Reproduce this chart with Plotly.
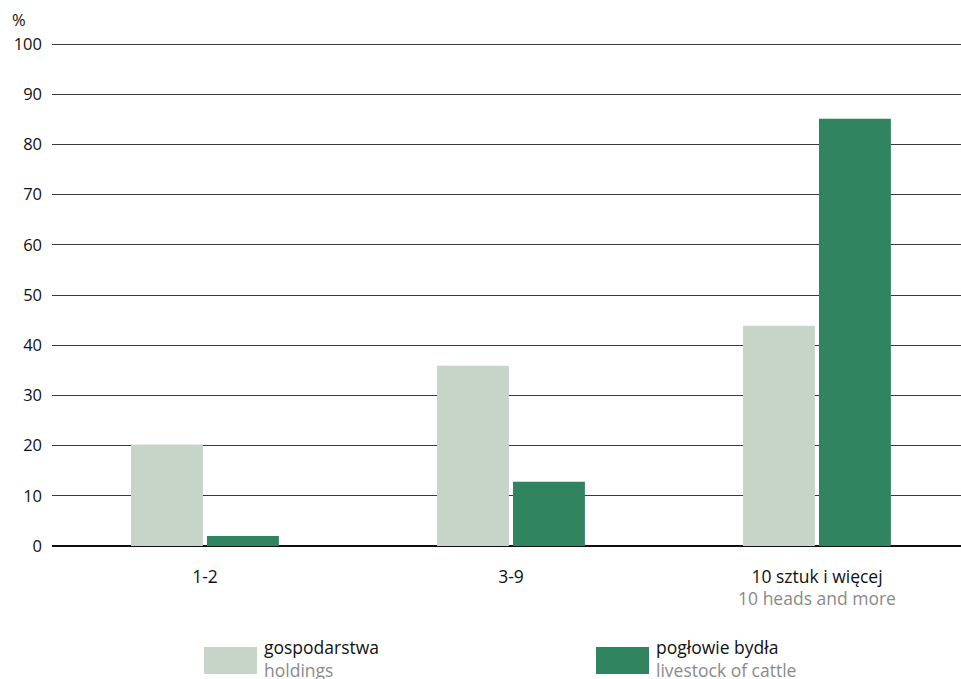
import plotly.graph_objects as go

categories = ["1-2", "3-9", "10 sztuk i więcej"]
category_sub = ["", "", "10 heads and more"]
holdings = [20.2, 35.9, 43.9]
livestock = [2.0, 12.8, 85.1]
series_pl = ["gospodarstwa", "pogłowie bydła"]
series_en = ["holdings", "livestock of cattle"]
y_ticks = [0, 10, 20, 30, 40, 50, 60, 70, 80, 90, 100]

LIGHT = "#C7D5C9"
DARK = "#318460"
GRAY = "#8a8a8a"
FONT = "Open Sans"
FS = 16.5
FS_TXT = 17.5

ticktext = [c if not s else f"{c}<br><span style='color:{GRAY}'>{s}</span>"
            for c, s in zip(categories, category_sub)]
xs = list(range(len(categories)))

fig = go.Figure()
fig.add_trace(go.Bar(x=xs, y=holdings, name=series_pl[0], marker_color=LIGHT,
                     marker_line_width=0, width=0.235, offset=-0.2418))
fig.add_trace(go.Bar(x=xs, y=livestock, name=series_pl[1], marker_color=DARK,
                     marker_line_width=0, width=0.235, offset=0.0065))

W, H = 961, 679
L, R, T, B = 52, 0, 42, 133
pw, ph = W - L - R, H - T - B

def px(xp):
    return (xp - L) / pw

def py(yp):
    return (H - B - yp) / ph

shapes = []
annotations = []
legend_items = [(204, LIGHT, 0), (596, DARK, 1)]
for x0, col, i in legend_items:
    shapes.append(dict(type="rect", xref="paper", yref="paper",
                       x0=px(x0), x1=px(x0 + 53), y0=py(674), y1=py(647),
                       fillcolor=col, line_width=0))
    annotations.append(dict(xref="paper", yref="paper", x=px(x0 + 58), y=py(658),
                            xanchor="left", yanchor="middle", showarrow=False, align="left",
                            text=f"{series_pl[i]}<br><span style='color:{GRAY}'>{series_en[i]}</span>",
                            font=dict(size=FS_TXT, color="#111", family=FONT)))
annotations.append(dict(xref="paper", yref="paper", x=px(10), y=py(20),
                        xanchor="left", yanchor="middle", showarrow=False,
                        text="%", font=dict(size=FS, color="#111", family=FONT)))

fig.update_layout(
    width=W, height=H,
    margin=dict(l=L, r=R, t=T, b=B, pad=0),
    plot_bgcolor="white", paper_bgcolor="white",
    showlegend=False,
    font=dict(family=FONT, size=FS, color="#111"),
    shapes=shapes, annotations=annotations,
    xaxis=dict(range=[-0.5, 2.4706], tickmode="array", tickvals=xs, ticktext=ticktext,
               showgrid=False, zeroline=False, showline=False, ticks="",
               ticklabelstandoff=18, tickfont=dict(size=FS_TXT, color="#111")),
    yaxis=dict(range=[0, 100.4], tickmode="array", tickvals=y_ticks,
               showgrid=True, gridcolor="#3a3a3a", gridwidth=1,
               zeroline=True, zerolinecolor="#111", zerolinewidth=1.5,
               showline=False, ticks="", ticklabelstandoff=9,
               tickfont=dict(size=FS, color="#111")),
)

fig.write_html("out.html", config={"displayModeBar": False},
               post_script="document.body.style.margin='0';document.body.style.overflow='hidden';")
